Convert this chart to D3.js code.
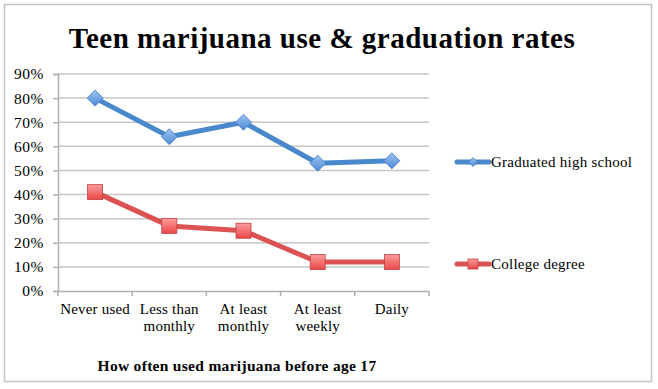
<!DOCTYPE html>
<meta charset="utf-8" />
<script src="https://d3js.org/d3.v7.min.js"></script>
<style>
  body { margin: 0; background: #fff; }
  text { font-family: "Liberation Serif", "DejaVu Serif", serif; }
</style>
<body>
<div id="chart"></div>
<script>
  // data
  const categories = [["Never used"], ["Less than", "monthly"], ["At least", "monthly"], ["At least", "weekly"], ["Daily"]];
  const highSchool = [80, 64, 70, 53, 54];
  const college = [41, 27, 25, 12, 12];
  const yTicks = [0, 10, 20, 30, 40, 50, 60, 70, 80, 90];

  const W = 658, H = 389;
  const margin = { top: 74, left: 58, right: 229, bottom: 98 };
  const width = W - margin.left - margin.right,
    height = H - margin.top - margin.bottom;

  const svg = d3.select("#chart").append("svg")
    .attr("width", W).attr("height", H);

  // outer frame
  svg.append("rect")
    .attr("x", 4.5).attr("y", 4.5)
    .attr("width", 647).attr("height", 377)
    .attr("fill", "#fff").attr("stroke", "#c4c4c4").attr("stroke-width", 1.5);

  svg.append("text")
    .attr("x", 322).attr("y", 48)
    .attr("text-anchor", "middle")
    .style("font-size", "29px").style("font-weight", "bold")
    .style("letter-spacing", "0.5px")
    .text("Teen marijuana use & graduation rates");

  const g = svg.append("g")
    .attr("transform", "translate(" + margin.left + "," + margin.top + ")");

  const x = d3.scaleBand().domain(d3.range(categories.length)).range([0, width]);
  const y = d3.scaleLinear().domain([0, 90]).range([height, 0]);

  // gridlines
  g.selectAll(".grid").data(yTicks.slice(1)).enter().append("line")
    .attr("x1", 0).attr("x2", width)
    .attr("y1", d => y(d)).attr("y2", d => y(d))
    .attr("stroke", "#c6c6c6").attr("stroke-width", 1.5);

  // y axis
  const yAxis = g.append("g")
    .call(d3.axisLeft(y).tickValues(yTicks).tickFormat(d => d + "%").tickSize(5).tickPadding(9));
  yAxis.select(".domain").attr("stroke", "#b0b0b0").attr("stroke-width", 1.5);
  yAxis.selectAll(".tick line").attr("stroke", "#b0b0b0").attr("stroke-width", 1.5);
  yAxis.selectAll("text").style("font-size", "15.5px").attr("fill", "#000")
    .style("font-family", "Liberation Serif, serif").style("letter-spacing", "0.5px");

  // x axis
  const xAxis = g.append("g")
    .attr("transform", "translate(0," + height + ")")
    .call(d3.axisBottom(x).tickValues([]).tickSizeOuter(0));
  xAxis.select(".domain").attr("stroke", "#b0b0b0").attr("stroke-width", 1.5);
  g.selectAll(".xtick").data(d3.range(categories.length + 1)).enter().append("line")
    .attr("x1", d => d * x.bandwidth()).attr("x2", d => d * x.bandwidth())
    .attr("y1", height).attr("y2", height + 5)
    .attr("stroke", "#b0b0b0").attr("stroke-width", 1.5);

  const xl = g.selectAll(".xlab").data(categories).enter().append("text")
    .attr("text-anchor", "middle")
    .attr("transform", (d, i) => "translate(" + (x(i) + x.bandwidth() / 2) + "," + (height + 23) + ")")
    .style("font-size", "15px").style("letter-spacing", "0.2px");
  xl.selectAll("tspan").data(d => d).enter().append("tspan")
    .attr("x", 0).attr("dy", (d, i) => i === 0 ? 0 : 17)
    .text(d => d);

  svg.append("text")
    .attr("x", 237).attr("y", 371)
    .attr("text-anchor", "middle")
    .style("font-size", "15.5px").style("font-weight", "bold")
    .style("letter-spacing", "0.3px")
    .text("How often used marijuana before age 17");

  // gradients for markers
  const defs = svg.append("defs");
  function grad(id, light, dark) {
    const lg = defs.append("linearGradient").attr("id", id)
      .attr("x1", 0).attr("y1", 0).attr("x2", 0).attr("y2", 1);
    lg.append("stop").attr("offset", "0%").attr("stop-color", light);
    lg.append("stop").attr("offset", "100%").attr("stop-color", dark);
  }
  grad("gBlue", "#9cc4f2", "#4f8ad6");
  grad("gRed", "#ff9c9c", "#e84848");

  const series = [
    { name: "Graduated high school", values: highSchool, color: "#4a88cc", fill: "url(#gBlue)", stroke: "#3f7cc2", shape: "diamond", ly: 162 },
    { name: "College degree", values: college, color: "#dc5252", fill: "url(#gRed)", stroke: "#c44040", shape: "square", ly: 264 }
  ];

  const line = d3.line()
    .x((d, i) => x(i) + x.bandwidth() / 2)
    .y(d => y(d));

  function marker(sel, s, size) {
    if (s.shape === "diamond") {
      sel.append("path")
        .attr("d", "M0," + (-size) + "L" + size + ",0L0," + size + "L" + (-size) + ",0Z")
        .attr("fill", s.fill).attr("stroke", s.stroke).attr("stroke-width", 0.8);
    } else {
      sel.append("rect")
        .attr("x", -size).attr("y", -size).attr("width", size * 2).attr("height", size * 2)
        .attr("fill", s.fill).attr("stroke", s.stroke).attr("stroke-width", 0.8);
    }
  }

  series.forEach(s => {
    g.append("path").datum(s.values)
      .attr("d", line)
      .attr("fill", "none").attr("stroke", s.color).attr("stroke-width", 5)
      .attr("stroke-linejoin", "round");
    s.values.forEach((v, i) => {
      const m = g.append("g")
        .attr("transform", "translate(" + (x(i) + x.bandwidth() / 2) + "," + y(v) + ")");
      marker(m, s, s.shape === "diamond" ? 8 : 7.5);
    });

    // legend
    svg.append("line")
      .attr("x1", 457).attr("x2", 489).attr("y1", s.ly).attr("y2", s.ly)
      .attr("stroke", s.color).attr("stroke-width", 5).attr("stroke-linecap", "round");
    const lm = svg.append("g").attr("transform", "translate(473," + s.ly + ")");
    marker(lm, s, s.shape === "diamond" ? 4.5 : 5);
    svg.append("text")
      .attr("x", 491).attr("y", s.ly + 5)
      .style("font-size", "15px").style("letter-spacing", "0.25px")
      .text(s.name);
  });
</script>
</body>
